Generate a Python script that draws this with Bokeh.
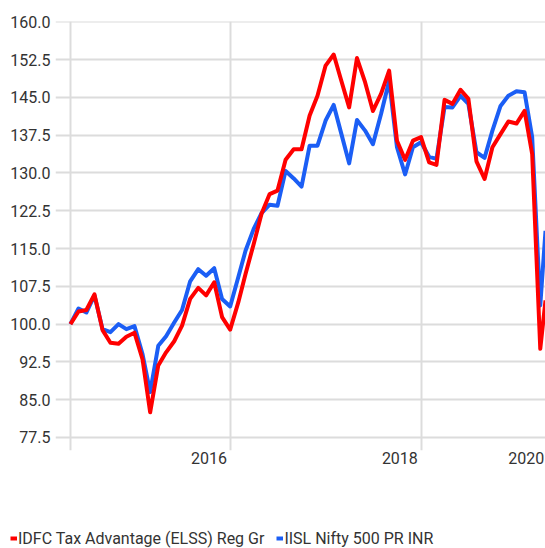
import pandas as pd
from bokeh.plotting import figure
from bokeh.layouts import column
from bokeh.models import (FixedTicker, NumeralTickFormatter, Range1d, Legend,
                          LegendItem, ColumnDataSource)
from bokeh.embed import file_html
from bokeh.resources import INLINE

fund_name = "IDFC Tax Advantage (ELSS) Reg Gr"
index_name = "IISL Nifty 500 PR INR"

# monthly month-end observations from Apr 2015, plus a final mid-April 2020 point
month_ends = pd.date_range("2015-04-30", periods=60, freq=pd.offsets.MonthEnd())
dates = list(month_ends) + [pd.Timestamp("2020-04-20")]

fund = [100.0, 102.5, 102.8, 105.9, 98.8, 96.3, 96.1, 97.5, 98.3, 93.0,
        82.5, 91.8, 94.4, 96.6, 99.7, 105.0, 107.2, 105.7, 108.3, 101.4,
        98.9, 104.3, 110.0, 115.9, 121.9, 125.8, 126.5, 132.6, 134.7, 134.7,
        141.4, 145.3, 151.3, 153.5, 148.5, 143.0, 152.8, 148.0, 142.3, 145.7,
        150.3, 136.4, 132.6, 136.4, 137.1, 132.1, 131.6, 144.5, 143.7, 146.5,
        144.7, 132.3, 128.8, 135.1, 137.7, 140.2, 139.8, 142.3, 133.8, 95.1,
        104.7]

bench = [100.0, 103.1, 102.3, 105.7, 99.0, 98.4, 100.0, 99.0, 99.6, 94.0,
         86.5, 95.7, 97.6, 100.3, 102.8, 108.5, 110.9, 109.6, 111.1, 105.0,
         103.5, 109.3, 114.6, 118.9, 122.0, 123.7, 123.5, 130.4, 128.9, 127.3,
         135.4, 135.4, 140.4, 143.5, 138.0, 131.9, 140.5, 138.4, 135.7, 141.7,
         148.3, 135.1, 129.7, 135.1, 136.1, 133.2, 132.8, 143.1, 143.0, 145.3,
         143.7, 134.1, 133.0, 138.4, 143.3, 145.3, 146.2, 146.0, 137.1, 103.7,
         118.5]

y_ticks = [77.5, 85.0, 92.5, 100.0, 107.5, 115.0, 122.5, 130.0, 137.5,
           145.0, 152.5, 160.0]
x_tick_labels = ["2016", "2018", "2020"]
x_label_anchor = ["2016-10-11", "2018-10-11", "2020-02-06"]
x_grid_dates = ["2015-04-30", "2016-12-31", "2018-12-31"]

fund_color = "#ff0000"
bench_color = "#1b5ef5"
text_color = "#333333"
font = "Roboto"


def ms(d):
    return int(pd.Timestamp(d).value // 10**6)


src = ColumnDataSource(data=dict(date=dates, fund=fund, bench=bench))

p = figure(width=545, height=490, x_axis_type="datetime",
           output_backend="svg", toolbar_location=None,
           x_range=Range1d(pd.Timestamp("2015-03-04"), pd.Timestamp("2020-04-20")),
           y_range=Range1d(74.92, 160.05),
           min_border_left=55, min_border_right=0,
           min_border_top=21, min_border_bottom=40)
p.frame_align = False
p.outline_line_color = None
p.background_fill_color = "white"
p.border_fill_color = "white"

p.line("date", "bench", source=src, line_color=bench_color,
       line_width=4, line_join="round")
p.line("date", "fund", source=src, line_color=fund_color,
       line_width=4, line_join="round")

# y axis
yax = p.yaxis[0]
yax.ticker = FixedTicker(ticks=y_ticks)
yax.formatter = NumeralTickFormatter(format="0.0")
yax.axis_line_color = None
yax.major_tick_line_color = None
yax.minor_tick_line_color = None
yax.major_tick_out = 0
yax.major_tick_in = 0
yax.major_label_standoff = 5
yax.major_label_text_font = font
yax.major_label_text_font_size = "16px"
yax.major_label_text_color = text_color

# x axis
xax = p.xaxis[0]
label_ticks = [ms(d) for d in x_label_anchor]
xax.ticker = FixedTicker(ticks=label_ticks)
xax.major_label_overrides = {t: lab for t, lab in zip(label_ticks, x_tick_labels)}
xax.axis_line_color = None
xax.major_tick_line_color = None
xax.minor_tick_line_color = None
xax.major_tick_out = 0
xax.major_tick_in = 0
xax.major_label_standoff = 1
xax.major_label_text_font = font
xax.major_label_text_font_size = "16px"
xax.major_label_text_color = text_color

# grids
p.ygrid.ticker = FixedTicker(ticks=y_ticks)
p.xgrid.ticker = FixedTicker(ticks=[ms(d) for d in x_grid_dates])
for g in (p.xgrid, p.ygrid):
    g.grid_line_color = "#dcdcdc"
    g.grid_line_width = 2

# legend strip below the chart (series drawn out of view; only the legend shows)
lf = figure(width=545, height=58, output_backend="svg", toolbar_location=None,
            x_range=Range1d(0, 1), y_range=Range1d(0, 1),
            x_axis_location=None, y_axis_location=None,
            min_border_left=0, min_border_right=0,
            min_border_top=0, min_border_bottom=0)
lf.frame_align = False
lf.outline_line_color = None
lf.grid.visible = False
lf.border_fill_color = "white"
k_fund = lf.line("date", "fund", source=src, line_color=fund_color, line_width=4)
k_bench = lf.line("date", "bench", source=src, line_color=bench_color, line_width=4)

legend = Legend(items=[LegendItem(label=fund_name, renderers=[k_fund]),
                       LegendItem(label=index_name, renderers=[k_bench])],
                orientation="horizontal", location=(10, 0),
                glyph_width=7, glyph_height=20, label_standoff=1, spacing=12,
                padding=0, margin=0, border_line_color=None,
                background_fill_alpha=0,
                label_text_font=font, label_text_font_size="16px",
                label_text_color=text_color)
lf.add_layout(legend)

layout = column(p, lf, spacing=0)
open("out.html", "w").write(file_html(layout, INLINE))
